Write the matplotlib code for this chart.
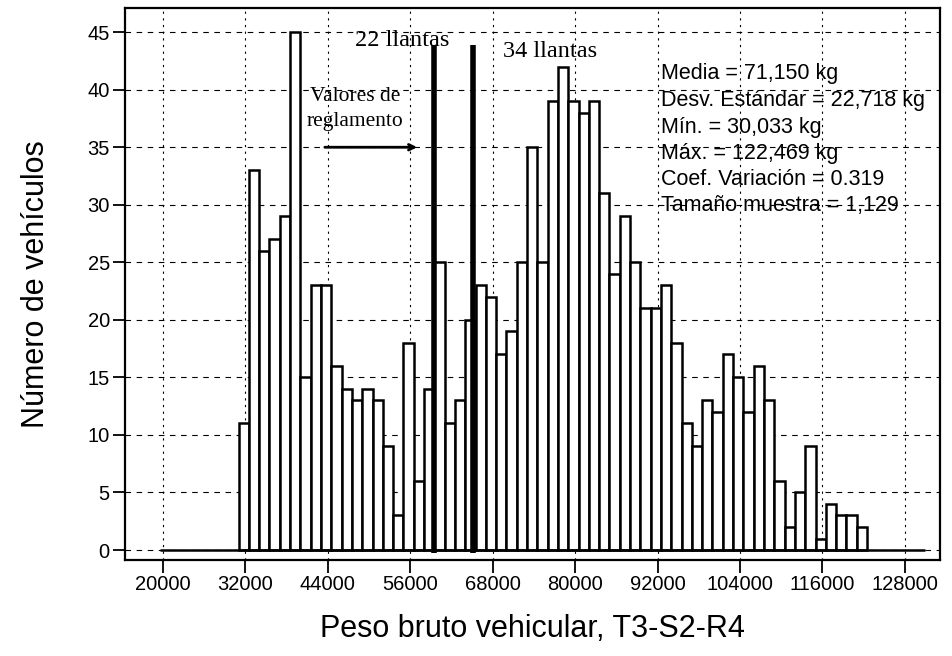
import numpy as np
import matplotlib.pyplot as plt

# histograma de peso bruto vehicular T3-S2-R4
bin_start = 31000
bin_width = 1500
counts = [11, 33, 26, 27, 29, 45, 15, 23, 23, 16, 14, 13, 14, 13, 9, 3,
          18, 6, 14, 25, 11, 13, 20, 23, 22, 17, 19, 25, 35, 25, 39, 42,
          39, 38, 39, 31, 24, 29, 25, 21, 21, 23, 18, 11, 9, 13, 12, 17,
          15, 12, 16, 13, 6, 2, 5, 9, 1, 4, 3, 3, 2]

x_ticks = [20000, 32000, 44000, 56000, 68000, 80000, 92000, 104000, 116000, 128000]
y_ticks = [0, 5, 10, 15, 20, 25, 30, 35, 40, 45]

limit_values = [59500, 65200]
limit_labels = ["22 llantas", "34 llantas"]

stats_lines = ["Media = 71,150 kg",
               "Desv. Estándar = 22,718 kg",
               "Mín. = 30,033 kg",
               "Máx. = 122,469 kg",
               "Coef. Variación = 0.319",
               "Tamaño muestra = 1,129"]

plt.rcParams['font.family'] = ['Liberation Sans', 'DejaVu Sans']

fig = plt.figure(figsize=(9.53, 6.56), dpi=100)
ax = fig.add_axes([0.1312, 0.1463, 0.8552, 0.8415])

edges = bin_start + bin_width * np.arange(len(counts))
ax.bar(edges, counts, width=bin_width, align='edge', color='white',
       edgecolor='black', linewidth=1.8, zorder=3)

ax.set_xlim(14467, 133130)
ax.set_ylim(-0.87, 47.1)

ax.set_xticks(x_ticks)
ax.set_yticks(y_ticks)
ax.tick_params(axis='both', labelsize=14.5, direction='out', length=9, width=1.3, pad=2)

ax.grid(axis='y', color='black', linestyle=(0, (5, 5)), linewidth=0.8, zorder=1)
ax.grid(axis='x', color='black', linestyle=(0, (2, 4)), linewidth=0.8, zorder=1)

ax.hlines(0, 19500, 131000, color='black', linewidth=1.8, zorder=4)

for sp in ax.spines.values():
    sp.set_linewidth(1.6)

# lineas de reglamento
ax.vlines(limit_values, -0.3, 43.9, color='black', linewidth=4, zorder=5)
ax.text(54800, 44.3, limit_labels[0], family='Liberation Serif', fontsize=17.5,
        ha='center', va='center', zorder=6)
ax.text(76350, 43.3, limit_labels[1], family='Liberation Serif', fontsize=17.5,
        ha='center', va='center', zorder=6)
ax.text(47950, 39.4, "Valores de", family='Liberation Serif', fontsize=15.5,
        ha='center', va='center', zorder=6)
ax.text(47950, 37.2, "reglamento", family='Liberation Serif', fontsize=15.5,
        ha='center', va='center', zorder=6)
ax.annotate("", xy=(57400, 35), xytext=(43150, 35),
            arrowprops=dict(arrowstyle='->', color='black', lw=2), zorder=6)

stats_y = [41.4, 39.1, 36.75, 34.5, 32.2, 29.9]
for s, yy in zip(stats_lines, stats_y):
    ax.text(92510, yy, s, fontsize=15.5, ha='left', va='center', zorder=6)

ax.set_xlabel("Peso bruto vehicular, T3-S2-R4", fontsize=22, labelpad=14)
ax.set_ylabel("Número de vehículos", fontsize=22, labelpad=26)

fig.savefig("out.png", dpi=100)
